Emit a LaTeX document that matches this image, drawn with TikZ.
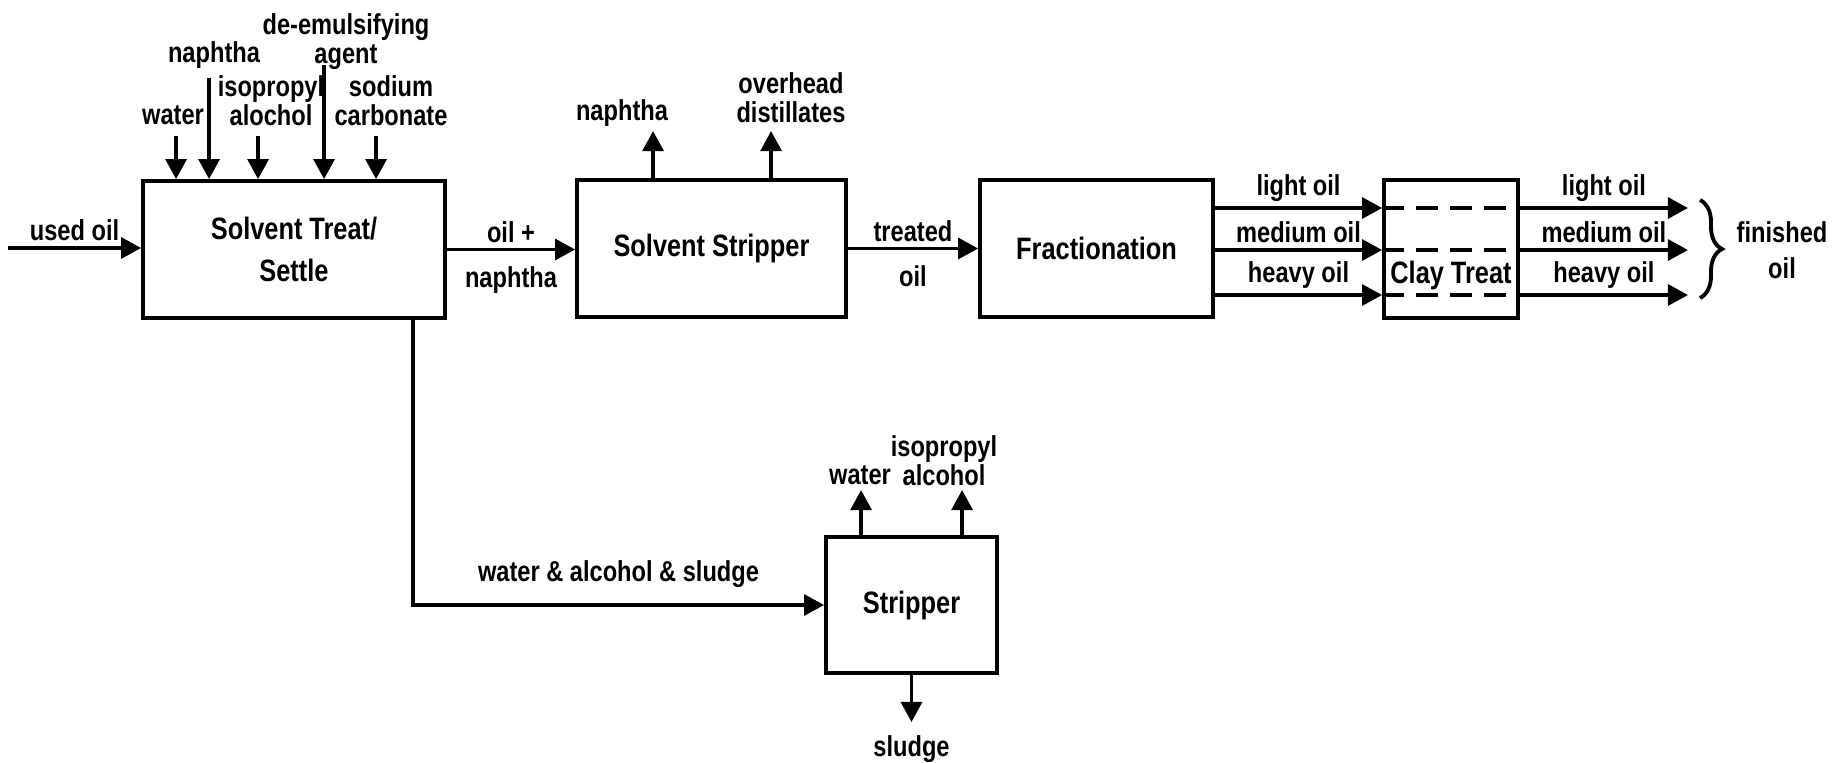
\documentclass[tikz,border=0pt]{standalone}
\usepackage{fontspec}
\setmainfont{Liberation Sans}[FakeStretch=0.82]
\usetikzlibrary{arrows.meta,decorations.pathreplacing}

\tikzset{
  unit/.style={draw, line width=1.1pt, inner sep=0pt, align=center,
    font=\fontsize{8.8}{12}\selectfont\bfseries},
  unitname/.style={inner sep=0pt, font=\fontsize{8.8}{12}\selectfont\bfseries},
  flow/.style={line width=0.9pt, -{Triangle[length=2mm,width=2.1mm]}},
  lbl/.style={inner sep=1.5pt, align=center, font=\fontsize{8.2}{8.2}\selectfont\bfseries},
}

\begin{document}
\begin{tikzpicture}
\useasboundingbox (0,0) rectangle (18.36,-7.62);

% process units
\node[unit, minimum width=3.02cm, minimum height=1.37cm] (st) at (2.94,-2.495) {Solvent Treat/\\Settle};
\node[unit, minimum width=2.69cm, minimum height=1.37cm] (ss) at (7.115,-2.485) {Solvent Stripper};
\node[unit, minimum width=2.33cm, minimum height=1.37cm] (fr) at (10.965,-2.485) {Fractionation};
\node[unit, minimum width=1.34cm, minimum height=1.38cm] (ct) at (14.51,-2.49) {};
\node[unitname] (ctname) at ([yshift=-2.6mm]ct.center) {Clay Treat};
\node[unit, minimum width=1.71cm, minimum height=1.36cm] (sp) at (9.115,-6.05) {Stripper};

% feeds to solvent treat
\node[lbl] (lwater) at (1.73,-1.15) {water};
\node[lbl] (lnaph) at (2.14,-0.55) {naphtha};
\node[lbl] (lipa) at (2.71,-1.01) {isopropyl\\alochol};
\node[lbl] (ldemul) at (3.46,-0.42) {de-emulsifying\\agent};
\node[lbl] (lsoda) at (3.91,-1.01) {sodium\\carbonate};
\foreach \dx/\len in {3.5/4.3, 6.8/10.1, 11.7/4.3, 18.3/11.4, 23.5/4.3}
  \draw[flow] ([shift={(\dx mm,\len mm)}]st.north west) -- ++(0,-\len mm);

\coordinate (feed) at (0.08,-2.48);
\draw[flow] (feed) -- node[lbl, above] {used oil} (feed -| st.west);

% main line
\draw[flow] (st.east) -- node[lbl, above] {oil +} node[lbl, below=3pt] {naphtha} (st.east -| ss.west);
\draw[flow] (ss.east) -- node[lbl, above] {treated} node[lbl, below=3pt] {oil} (ss.east -| fr.west);

% overheads
\foreach \dx in {7.8,19.6}
  \draw[flow] ([xshift=\dx mm]ss.north west) -- ++(0,4.7mm);
\node[lbl] (lnaphout) at (6.22,-1.13) {naphtha};
\node[lbl] (lover) at (7.91,-0.98) {overhead\\distillates};

% cuts through clay treat
\foreach \y/\stream in {2.08/light oil, 2.50/medium oil, 2.95/heavy oil} {
  \draw[flow] (fr.east |- 0,-\y) -- node[lbl, above] {\stream} (ct.west |- 0,-\y);
  \draw[line width=0.9pt, dash pattern=on 2.2mm off 1.2mm] (ct.west |- 0,-\y) -- (ct.east |- 0,-\y);
  \draw[flow] (ct.east |- 0,-\y) -- node[lbl, above] {\stream} ++(1.68,0);
}
\draw[line width=1.1pt, decorate, decoration={brace, amplitude=2.2mm}] (17.0,-2.0) -- (17.0,-2.98);
\node[lbl] (lfin) at (17.82,-2.50) {finished\\[2pt]oil};

% bottoms to stripper
\draw[flow] ([xshift=-3.4mm]st.south east) |- node[lbl, pos=0.75, above=3pt] {water \& alcohol \& sludge} (sp.west);
\foreach \dx in {3.7,13.8}
  \draw[flow] ([xshift=\dx mm]sp.north west) -- ++(0,4.5mm);
\node[lbl] (lwatout) at (8.60,-4.75) {water};
\node[lbl] (lipaout) at (9.44,-4.61) {isopropyl\\alcohol};
\draw[flow] (sp.south) -- ++(0,-4.7mm) node[lbl, below=2pt] {sludge};
\end{tikzpicture}
\end{document}
